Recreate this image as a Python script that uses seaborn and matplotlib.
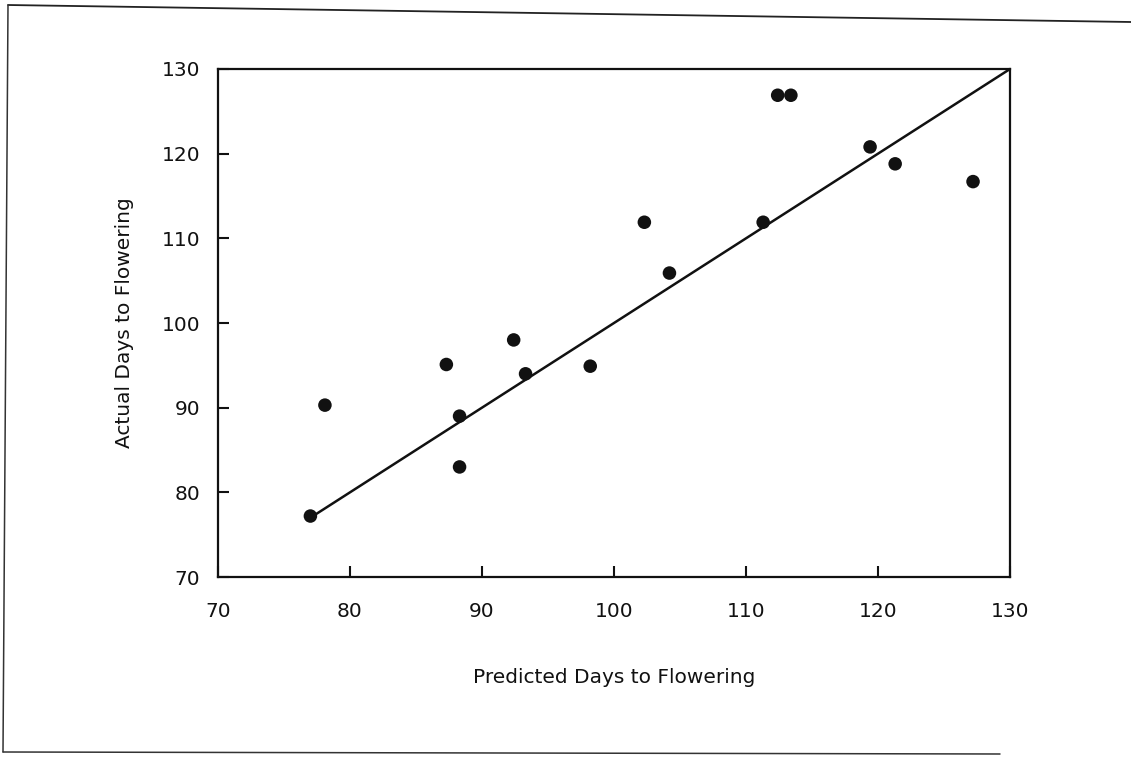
import matplotlib
matplotlib.use("Agg")
import matplotlib.pyplot as plt
from matplotlib.lines import Line2D
import seaborn as sns

# Data
predicted = [77, 78.1, 87.3, 88.3, 88.3, 92.4, 93.3, 98.2, 102.3, 104.2,
             111.3, 112.4, 113.4, 119.4, 121.3, 127.2]
actual = [77.2, 90.3, 95.1, 89.0, 83.0, 98.0, 94.0, 94.9, 111.9, 105.9,
          111.9, 126.9, 126.9, 120.8, 118.8, 116.7]
line_x = [77, 130]
line_y = [77, 130]
ticks = [70, 80, 90, 100, 110, 120, 130]

sns.set_theme(style="white")
plt.rcParams['font.family'] = ['DejaVu Sans']

fig = plt.figure(figsize=(11.31, 7.62), dpi=100)
ax = fig.add_axes([218/1131, 1-577/762, (1010-218)/1131, (577-69)/762])

sns.lineplot(x=line_x, y=line_y, ax=ax, color="#111111", linewidth=1.8)
sns.scatterplot(x=predicted, y=actual, ax=ax, s=95, color="#111111",
                edgecolor="none", zorder=3)

ax.set_xlim(70, 130)
ax.set_ylim(70, 130)
ax.set_xticks(ticks)
ax.set_yticks(ticks)
ax.set_xticklabels([str(t) for t in ticks])
ax.set_yticklabels([str(t) for t in ticks])
ax.tick_params(axis="both", direction="in", length=8, width=1.5,
               colors="#111111", labelsize=14.5, bottom=True, left=True)
ax.tick_params(axis="x", pad=18)
ax.tick_params(axis="y", pad=13)

for s in ax.spines.values():
    s.set_color("#111111")
    s.set_linewidth(1.6)

ax.set_xlabel("Predicted Days to Flowering", fontsize=14.5, labelpad=34,
              color="#111111")
ax.set_ylabel("Actual Days to Flowering", fontsize=14.5, labelpad=20,
              color="#111111")

# scanned page border (top, left, bottom)
fig.add_artist(Line2D([8/1131, 1.0], [1-5/762, 1-22/762], transform=fig.transFigure,
                      color="#222222", linewidth=1.3))
fig.add_artist(Line2D([8/1131, 3/1131], [1-5/762, 1-752/762], transform=fig.transFigure,
                      color="#333333", linewidth=1.1))
fig.add_artist(Line2D([3/1131, 1000/1131], [1-752/762, 1-754/762], transform=fig.transFigure,
                      color="#333333", linewidth=1.1))

fig.savefig("out.png", dpi=100)
